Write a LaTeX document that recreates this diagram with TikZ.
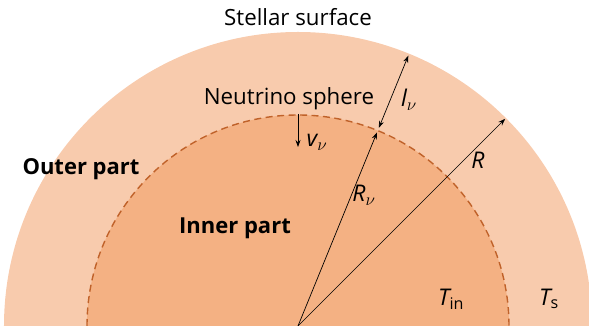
\documentclass[tikz,border=0pt]{standalone}
\usepackage{fontspec}
\setmainfont{Open Sans}
\usetikzlibrary{arrows.meta}
\definecolor{outerfill}{HTML}{F8CBAD}
\definecolor{innerfill}{HTML}{F4B183}
\definecolor{spherecol}{HTML}{C0622A}

\begin{document}
\begin{tikzpicture}[x=1pt, y=1pt, >={Stealth[length=7pt, width=5pt]},
  lbl/.style={font=\fontsize{22.3}{26}\selectfont},
  part/.style={font=\fontsize{22}{26}\selectfont\bfseries},
  sym/.style={font=\fontsize{23}{26}\selectfont\itshape},
  vec/.style={line width=0.7pt}]
  \useasboundingbox (-298,0) rectangle (291,326);
  \clip (-298,0) rectangle (291,326);

  % Star and neutrino sphere
  \fill[outerfill] (0,0) circle (294);
  \fill[innerfill] (0,0) circle (211);
  \draw[spherecol, line width=1.4pt, dash pattern=on 7pt off 4.5pt]
    (-211,0) arc (180:0:211);

  % Points
  \coordinate (O) at (0,0);
  \coordinate (Rend) at (45:293);
  \coordinate (Rnu) at (67.8:209);
  \coordinate (lin) at (67.8:214);
  \coordinate (lout) at (67.8:292);
  \coordinate (vtop) at (0,212);
  \coordinate (vbot) at (0,179);

  % Radii
  \draw[vec, ->] (O) -- (Rend);
  \draw[vec, ->] (O) -- (Rnu);
  \draw[vec, <->] (lin) -- (lout);
  \draw[vec, ->] (vtop) -- (vbot);

  % Labels
  \node[lbl] (surf) at (0,309) {Stellar surface};
  \node[lbl] (nsph) at (-9,227) {Neutrino sphere};
  \node[part] (outer) at (-217,157) {Outer part};
  \node[part] (inner) at (-63,98) {Inner part};
  \node[sym] (lnu) at (111,226) {l$_\nu$};
  \node[sym] (vnu) at (19,184) {v$_\nu$};
  \node[sym] (rnu) at (66,131) {R$_\nu$};
  \node[sym] (rr) at (180,166) {R};
  \node[sym] (tin) at (153,27) {T\textsubscript{\upshape in}};
  \node[sym] (ts) at (251,27) {T\textsubscript{\upshape s}};
\end{tikzpicture}
\end{document}
